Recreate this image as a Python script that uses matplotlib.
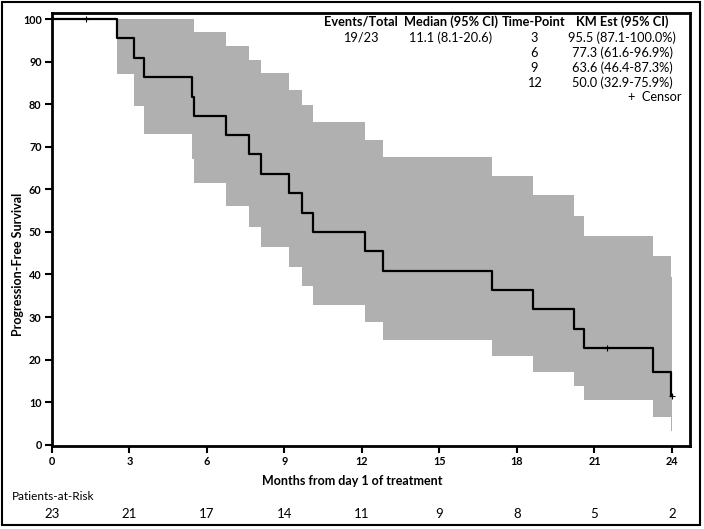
import matplotlib
matplotlib.use("Agg")
from matplotlib import pyplot as plt
from matplotlib.patches import Rectangle

# Kaplan-Meier data
event_times = [2.53, 3.17, 3.57, 5.43, 5.5, 6.73, 7.61, 8.1, 9.19, 9.68, 10.1,
               12.1, 12.83, 17.05, 18.64, 20.19, 20.6, 23.28, 23.98]
surv = [100, 95.5, 90.9, 86.4, 81.8, 77.3, 72.7, 68.2, 63.6, 59.1, 54.5, 50.0,
        45.5, 40.9, 36.4, 31.8, 27.3, 22.7, 17.0, 11.4]
ci_upper = [100, 100, 100, 100, 96.9, 93.6, 90.5, 87.3, 83.4, 79.7, 75.9,
            71.7, 67.5, 63.1, 58.6, 53.8, 49.1, 44.3, 39.3]
ci_lower = [87.1, 79.5, 73.0, 67.1, 61.6, 56.2, 51.1, 46.4, 41.7, 37.2, 32.9,
            28.8, 24.7, 20.9, 17.2, 13.8, 10.5, 6.5, 3.2]
censor_times = [1.3, 21.5, 24.0]
censor_surv = [100, 22.7, 11.4]
end_time = 24.0

x_ticks = [0, 3, 6, 9, 12, 15, 18, 21, 24]
y_ticks = [0, 10, 20, 30, 40, 50, 60, 70, 80, 90, 100]
at_risk = [23, 21, 17, 14, 11, 9, 8, 5, 2]

table_header = ["Events/Total", "Median (95% CI)", "Time-Point", "KM Est (95% CI)"]
events_total = "19/23"
median_ci = "11.1 (8.1-20.6)"
time_points = ["3", "6", "9", "12"]
km_est = ["95.5 (87.1-100.0%)", "77.3 (61.6-96.9%)",
          "63.6 (46.4-87.3%)", "50.0 (32.9-75.9%)"]

plt.rcParams['font.family'] = ['Lato', 'DejaVu Sans']

W, H = 704, 529
fig = plt.figure(figsize=(W / 100, H / 100), dpi=100)

def fx(px):
    return px / W

def fy(py):
    return 1 - py / H

ax = fig.add_axes([fx(52), fy(446), fx(690) - fx(52), fy(12.7) - fy(446)])

# confidence band
band_x = event_times + [end_time]
ax.fill_between(band_x, ci_lower + [ci_lower[-1]], ci_upper + [ci_upper[-1]],
                step='post', color='#b0b0b0', linewidth=0, zorder=1)
# survival curve
curve_x = [0] + event_times + [end_time]
ax.step(curve_x, surv + [surv[-1]], where='post', color='black', lw=1.6, zorder=3)
ax.plot(censor_times, censor_surv, linestyle='none', marker='+', color='black',
        markersize=4, mew=0.8, zorder=4)

ax.set_xlim(0, 24.7)
ax.set_ylim(-0.3, 101.5)
ax.set_xticks(x_ticks)
ax.set_yticks(y_ticks)
ax.tick_params(direction='out', length=5, width=1.5, labelsize=7.8, pad=2.5)
for lab in ax.get_xticklabels() + ax.get_yticklabels():
    lab.set_fontweight('bold')
for s in ax.spines.values():
    s.set_linewidth(2)
ax.set_xlabel("Months from day 1 of treatment", fontsize=9, fontweight='bold')
ax.xaxis.set_label_coords(0.5, fy(481), transform=fig.transFigure)
ax.set_ylabel("Progression-Free Survival", fontsize=9, fontweight='bold')
ax.yaxis.set_label_coords(fx(18), 0.5, transform=fig.transFigure)
ax.xaxis.label.set_va('center')
ax.yaxis.label.set_va('center')

# table in the upper right
fs_tab = 9.2
hx = [361, 451, 534, 622]
for x, t in zip(hx, table_header):
    fig.text(fx(x), fy(22), t, ha='center', va='center', fontsize=fs_tab, fontweight='bold')
fig.text(fx(hx[0]), fy(38), events_total, ha='center', va='center', fontsize=fs_tab)
fig.text(fx(hx[1]), fy(38), median_ci, ha='center', va='center', fontsize=fs_tab)
for i, (tp, km) in enumerate(zip(time_points, km_est)):
    yy = 38 + i * 15
    fig.text(fx(hx[2]), fy(yy), tp, ha='center', va='center', fontsize=fs_tab)
    fig.text(fx(hx[3]), fy(yy), km, ha='center', va='center', fontsize=fs_tab)
fig.text(fx(681), fy(97), "+  Censor", ha='right', va='center', fontsize=fs_tab)

# patients at risk
fig.text(fx(12), fy(496), "Patients-at-Risk", ha='left', va='center', fontsize=8.5)
for t, n in zip(x_ticks, at_risk):
    xd = ax.transData.transform((t, 0))[0]
    fig.text(xd / W, fy(514), str(n), ha='center', va='center', fontsize=9.5)

# outer frame
fig.patches.append(Rectangle((fx(2), fy(525)), fx(698), fy(2) - fy(525),
                             transform=fig.transFigure, fill=False,
                             edgecolor='black', linewidth=1.5))

fig.savefig("out.png", dpi=100)
